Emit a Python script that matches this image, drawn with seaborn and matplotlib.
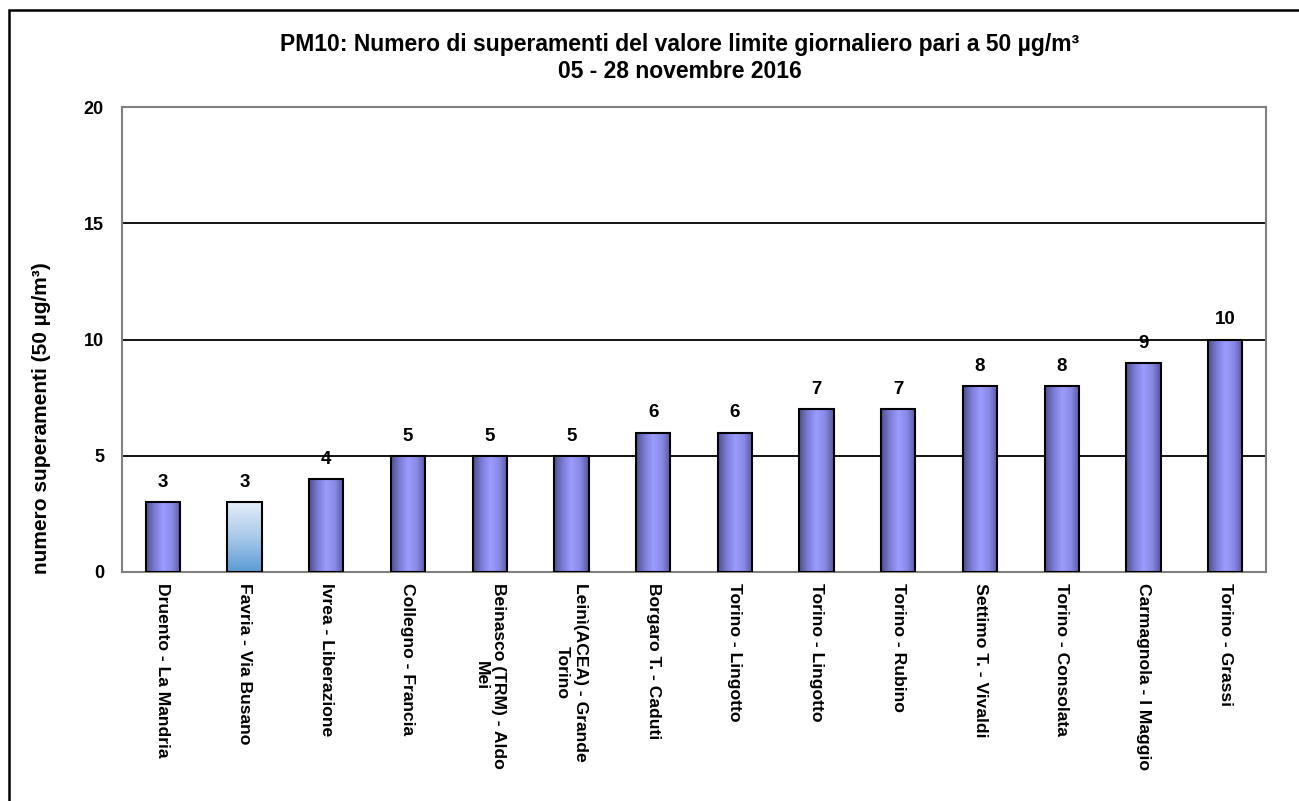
import matplotlib
matplotlib.use("Agg")
import matplotlib.pyplot as plt
import seaborn as sns
import pandas as pd
import numpy as np
from matplotlib.colors import LinearSegmentedColormap
from matplotlib.patches import Rectangle

# data
stations = [
    "Druento - La Mandria",
    "Favria - Via Busano",
    "Ivrea - Liberazione",
    "Collegno - Francia",
    "Beinasco (TRM) - Aldo\nMei",
    "Leinì(ACEA) - Grande\nTorino",
    "Borgaro T. - Caduti",
    "Torino - Lingotto",
    "Torino - Lingotto ",
    "Torino - Rubino",
    "Settimo T. - Vivaldi",
    "Torino - Consolata",
    "Carmagnola - I Maggio",
    "Torino - Grassi",
]
superamenti = [3, 3, 4, 5, 5, 5, 6, 6, 7, 7, 8, 8, 9, 10]
y_ticks = [0, 5, 10, 15, 20]

df = pd.DataFrame({"stazione": stations, "n": superamenti})

sns.set_style("white")
plt.rcParams["font.family"] = ["Liberation Sans", "DejaVu Sans"]
plt.rcParams["font.weight"] = "bold"
plt.rcParams["text.color"] = "black"
plt.rcParams["xtick.color"] = "black"
plt.rcParams["ytick.color"] = "black"

fig = plt.figure(figsize=(12.99, 8.01), dpi=100)
ax = fig.add_axes([122 / 1299, 1 - 572 / 801, (1266 - 122) / 1299, (572 - 107) / 801])

sns.barplot(data=df, x="stazione", y="n", ax=ax, width=0.42,
            color="#8080e0", edgecolor="black", linewidth=1.5, saturation=1)

ax.set_yticks(y_ticks)
ax.set_yticklabels([str(t) for t in y_ticks], fontsize=13, fontweight="bold")
for t in y_ticks[1:-1]:
    ax.axhline(t, color="black", lw=1.3, zorder=0.5)

# gradients on the bars
purple = LinearSegmentedColormap.from_list(
    "purple", ["#4e4e8a", "#7c7cd6", "#9c9cff", "#8888e6", "#56569a"])
blue = LinearSegmentedColormap.from_list("blue", ["#5b9bd5", "#a9c9ea", "#e4eef9"])
grad_h = np.linspace(0, 1, 256).reshape(1, -1)
grad_v = np.linspace(0, 1, 256).reshape(-1, 1)
for i, p in enumerate(ax.patches):
    x0, y0 = p.get_x(), p.get_y()
    w, h = p.get_width(), p.get_height()
    if i == 1:
        img = ax.imshow(grad_v, cmap=blue, extent=(x0, x0 + w, y0, y0 + h),
                        origin="lower", aspect="auto", zorder=2)
    else:
        img = ax.imshow(grad_h, cmap=purple, extent=(x0, x0 + w, y0, y0 + h),
                        origin="lower", aspect="auto", zorder=2)
    img.set_clip_path(p)
    p.set_facecolor("none")
    p.set_zorder(3)
    ax.annotate(str(superamenti[i]), (x0 + w / 2, y0 + h), xytext=(0, 8),
                textcoords="offset points", ha="center", va="bottom",
                fontsize=13.5, fontweight="bold")
ax.set_aspect("auto")
ax.set_xlim(-0.5, len(stations) - 0.5)
ax.set_ylim(0, 20)

# x labels rotated, ticks between categories
ax.set_xticks(range(len(stations)))
ax.set_xticklabels(stations, rotation=-90, fontsize=12.6, fontweight="bold",
                   va="top", ha="center", multialignment="center")
ax.tick_params(axis="x", which="major", length=0, pad=8)
ax.set_xticks(np.arange(-0.5, len(stations), 1), minor=True)
ax.tick_params(axis="x", which="minor", length=5, width=1.3, color="black", direction="out")
ax.tick_params(axis="y", length=5, width=1.3, color="black", direction="out", pad=8)

for s in ax.spines.values():
    s.set_visible(True)
    s.set_color("#808080")
    s.set_linewidth(1.5)

ax.set_xlabel("")
ax.set_ylabel("")
fig.text(42 / 1299, 1 - 418 / 801, "numero superamenti (50 µg/m³)", rotation=90,
         ha="center", va="center", fontsize=15, fontweight="bold")
fig.text(680 / 1299, 1 - 45 / 801,
         "PM10: Numero di superamenti del valore limite giornaliero pari a 50 µg/m³",
         ha="center", va="center", fontsize=16.5, fontweight="bold")
fig.text(680 / 1299, 1 - 72 / 801, "05 - 28 novembre 2016",
         ha="center", va="center", fontsize=16.5, fontweight="bold")

# outer frame (only top and left visible)
fig.patches.append(Rectangle((9 / 1299, -1), 2, 2 - 10 / 801, transform=fig.transFigure,
                             fill=False, edgecolor="black", lw=1.8))

fig.savefig("out.png", dpi=100)
